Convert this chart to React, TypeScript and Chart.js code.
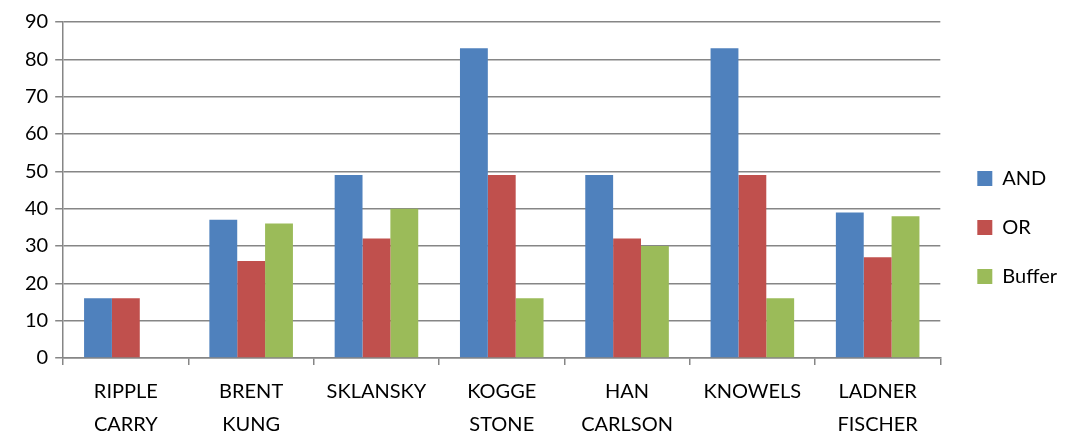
import React, { useEffect, useRef } from "react";
import { Chart, registerables } from "chart.js";

Chart.register(...registerables);

const categories: string[][] = [
  ["RIPPLE", "CARRY"],
  ["BRENT", "KUNG"],
  ["SKLANSKY"],
  ["KOGGE", "STONE"],
  ["HAN", "CARLSON"],
  ["KNOWELS"],
  ["LADNER", "FISCHER"],
];
const andValues = [16, 37, 49, 83, 49, 83, 39];
const orValues = [16, 26, 32, 49, 32, 49, 27];
const bufferValues = [0, 36, 40, 16, 30, 16, 38];
const yTicks = [0, 10, 20, 30, 40, 50, 60, 70, 80, 90];

const FONT = "Lato, 'Open Sans', sans-serif";

const legendShift = {
  id: "legendShift",
  afterLayout(chart: any) {
    const lg = chart.legend;
    if (!lg) return;
    const dx = 8;
    const dy = -9;
    lg.left += dx;
    lg.right += dx;
    lg.top += dy;
    lg.bottom += dy;
  },
};

export default function App() {
  const ref = useRef<HTMLCanvasElement | null>(null);
  useEffect(() => {
    document.body.style.margin = "0";
    const ctx = ref.current!;
    const chart = new Chart(ctx, {
      type: "bar",
      data: {
        labels: categories,
        datasets: [
          { label: "AND", data: andValues, backgroundColor: "#4F81BD" },
          { label: "OR", data: orValues, backgroundColor: "#C0504D" },
          { label: "Buffer", data: bufferValues, backgroundColor: "#9BBB59" },
        ],
      },
      plugins: [legendShift],
      options: {
        animation: false,
        responsive: false,
        maintainAspectRatio: false,
        layout: { padding: { top: 22, right: 10, left: 18, bottom: -17 } },
        datasets: { bar: { categoryPercentage: 0.667, barPercentage: 1 } },
        plugins: {
          tooltip: { enabled: false },
          legend: {
            position: "right",
            labels: {
              boxWidth: 15,
              boxHeight: 15,
              padding: 29,
              color: "#000",
              font: { family: FONT, size: 20 },
            },
          },
        },
        scales: {
          x: {
            grid: {
              display: true,
              drawOnChartArea: false,
              offset: true,
              tickLength: 7,
              color: "#868686",
              lineWidth: 1.5,
            },
            border: { color: "#868686", width: 1.5 },
            ticks: {
              color: "#000",
              padding: 10,
              maxRotation: 0,
              autoSkip: false,
              font: { family: FONT, size: 20, lineHeight: 1.65 },
            },
          },
          y: {
            min: 0,
            max: 90,
            afterBuildTicks: (axis: any) => {
              axis.ticks = yTicks.map((v) => ({ value: v }));
            },
            grid: {
              color: "#868686",
              lineWidth: 1.5,
              tickLength: 8,
            },
            border: { color: "#868686", width: 1.5 },
            ticks: {
              color: "#000",
              padding: 7,
              font: { family: FONT, size: 20 },
            },
          },
        },
      },
    });
    return () => chart.destroy();
  }, []);
  return (
    <div style={{ width: 1069, height: 434 }}>
      <canvas ref={ref} width={1069} height={434} style={{ display: "block" }} />
    </div>
  );
}
